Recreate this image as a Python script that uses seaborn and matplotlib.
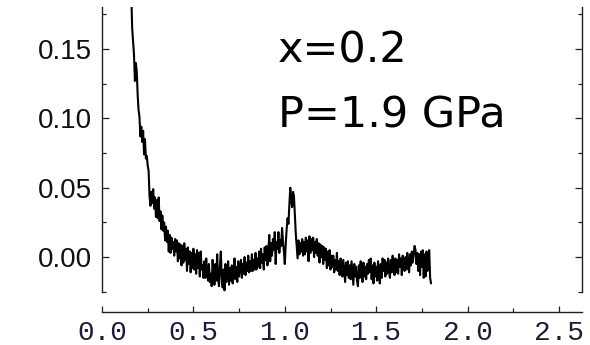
import numpy as np
import matplotlib
matplotlib.use("Agg")
import matplotlib.pyplot as plt
import seaborn as sns
from matplotlib.ticker import MultipleLocator, FormatStrFormatter

# ---- data ----
X_START, X_END = 0.16, 1.80
signal = [
    0.190, 0.165, 0.155, 0.146, 0.127, 0.140, 0.134, 0.117, 0.106, 0.101,
    0.087, 0.094, 0.083, 0.091, 0.074, 0.085, 0.071, 0.073, 0.066, 0.062,
    0.044, 0.037, 0.047, 0.039, 0.049, 0.035, 0.043, 0.029, 0.041, 0.028,
    0.043, 0.026, 0.033, 0.020, 0.030, 0.019, 0.025, 0.012, 0.022, 0.011,
    0.019, 0.004, 0.016, 0.003, 0.014, 0.006, 0.011, 0.001, 0.013, 0.004,
    0.012, -0.003, 0.010, -0.001, 0.009, -0.006, 0.008, -0.004, 0.010, -0.002,
    0.006, -0.010, 0.007, -0.005, 0.004, -0.011, 0.003, -0.008, 0.006, -0.009,
    0.002, -0.012, 0.005, -0.008, 0.003, -0.014, 0.004, -0.009, -0.006, -0.015,
    -0.003, -0.015, -0.001, -0.011, -0.017, -0.005, -0.018, -0.012, -0.021, -0.002,
    -0.013, -0.020, -0.005, -0.017, 0.002, -0.016, -0.021, -0.007, 0.004, -0.015,
    -0.022, -0.009, -0.024, -0.005, -0.018, -0.011, -0.003, -0.020, -0.008, -0.017,
    -0.006, -0.019, -0.009, -0.001, -0.016, -0.007, -0.018, -0.003, -0.014, -0.008,
    -0.002, -0.015, -0.005, -0.012, 0.000, -0.013, -0.004, -0.010, 0.001, -0.011,
    -0.003, -0.010, 0.002, -0.010, -0.002, -0.009, 0.003, -0.009, -0.001, -0.007,
    0.004, -0.008, 0.006, -0.004, 0.002, -0.009, 0.007, -0.002, 0.008, -0.006,
    0.004, 0.016, -0.003, 0.010, 0.001, 0.013, 0.005, 0.018, -0.005, 0.011,
    0.006, 0.018, 0.003, 0.012, 0.008, 0.021, 0.011, 0.004, -0.005, 0.009,
    0.020, 0.028, 0.024, 0.038, 0.050, 0.041, 0.036, 0.047, 0.044, 0.030,
    0.017, 0.008, -0.001, 0.012, 0.002, 0.010, 0.004, 0.013, 0.001, 0.011,
    0.002, 0.014, 0.004, 0.012, -0.003, 0.015, 0.003, 0.013, 0.005, 0.014,
    0.000, 0.011, 0.003, 0.013, 0.001, 0.010, -0.004, 0.009, 0.000, 0.008,
    -0.005, 0.007, -0.002, 0.006, -0.008, 0.004, -0.006, 0.005, -0.009, 0.001,
    -0.007, 0.001, -0.011, -0.002, -0.009, 0.003, -0.010, -0.003, -0.013, -0.001,
    -0.005, -0.014, -0.002, -0.010, -0.018, -0.004, -0.013, -0.003, -0.015, -0.006,
    -0.016, -0.003, -0.012, -0.020, -0.005, -0.014, -0.007, -0.017, -0.021, -0.006,
    -0.015, -0.003, -0.011, -0.018, -0.004, -0.014, -0.007, -0.016, -0.005, -0.012,
    -0.002, -0.011, -0.001, -0.016, -0.006, -0.019, -0.004, -0.014, -0.007, -0.017,
    -0.003, -0.013, -0.019, -0.005, -0.015, -0.001, -0.010, -0.002, -0.014, -0.004,
    -0.012, -0.001, -0.009, -0.015, -0.002, -0.011, 0.001, -0.008, -0.013, -0.001,
    -0.011, -0.002, -0.012, 0.002, -0.007, -0.001, -0.013, 0.001, -0.006, -0.010,
    0.000, -0.009, 0.003, -0.005, -0.011, 0.002, -0.006, 0.004, -0.004, 0.002,
    0.008, 0.005, -0.005, 0.003, -0.010, 0.002, -0.013, 0.004, -0.007, 0.005,
    -0.015, 0.002, -0.014, 0.004, -0.010, 0.001, 0.005, -0.015, -0.019,
]
q = np.linspace(X_START, X_END, len(signal))
label_line1 = "x=0.2"
label_line2 = "P=1.9 GPa"

# ---- figure ----
sns.set_style("ticks")
plt.rcParams["font.family"] = ["DejaVu Sans"]

fig = plt.figure(figsize=(5.9, 3.45), dpi=100)
ax = fig.add_axes([0.1729, 0.1536, 0.8136, 0.826])

sns.lineplot(x=q, y=signal, ax=ax, color="black", linewidth=1.5,
             sort=False, estimator=None)

ax.set_xlim(0, 2.626)
ax.set_ylim(-0.0252, 0.1803)
ax.set_xlabel("")
ax.set_ylabel("")

for s in ["left", "right", "bottom"]:
    ax.spines[s].set_visible(True)
    ax.spines[s].set_linewidth(1.0)
    ax.spines[s].set_color("#222222")
ax.spines["top"].set_visible(False)
ax.spines["bottom"].set_position(("outward", 14.5))

ax.yaxis.set_major_locator(MultipleLocator(0.05))
ax.yaxis.set_minor_locator(MultipleLocator(0.025))
ax.yaxis.set_major_formatter(FormatStrFormatter("%.2f"))
ax.xaxis.set_major_locator(MultipleLocator(0.5))
ax.xaxis.set_minor_locator(MultipleLocator(0.25))
ax.xaxis.set_major_formatter(FormatStrFormatter("%.1f"))

ax.tick_params(axis="y", which="both", direction="in", left=True, right=True,
               labelleft=True, labelright=False, color="#222222", width=0.9)
ax.tick_params(axis="y", which="major", length=5, pad=7, labelsize=20,
               labelfontfamily="Liberation Sans", labelcolor="#111111")
ax.tick_params(axis="y", which="minor", length=3)
ax.tick_params(axis="x", which="both", direction="in", bottom=True, top=False,
               color="#222222", width=0.9)
ax.tick_params(axis="x", which="major", length=4, pad=6, labelsize=20,
               labelcolor="#1c1c3a", labelfontfamily="Liberation Mono")
ax.tick_params(axis="x", which="minor", length=3)

fig.text(0.471, 0.8174, label_line1, fontsize=31, va="baseline", ha="left",
         color="black")
fig.text(0.471, 0.629, label_line2, fontsize=31, va="baseline", ha="left",
         color="black")

fig.savefig("out.png", dpi=100)
